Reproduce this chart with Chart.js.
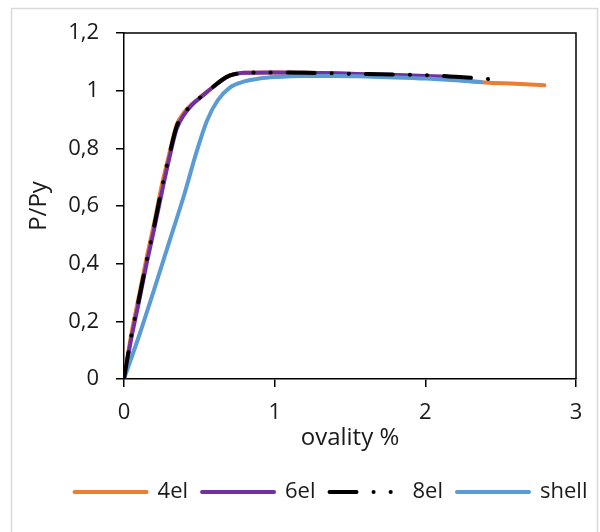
<!DOCTYPE html>
<html>
<head>
<meta charset="utf-8">
<script src="https://cdn.jsdelivr.net/npm/chart.js@4"></script>
<style>
  html, body { margin: 0; padding: 0; background: #fff; }
  #wrap { width: 600px; height: 532px; }
</style>
</head>
<body>
<div id="wrap"><canvas id="chart" width="600" height="532"></canvas></div>
<script>
// values
const seriesNames = ['4el', '6el', '8el', 'shell'];

const x4el = [0, 0.05, 0.1, 0.15, 0.2, 0.25, 0.3, 0.35, 0.4, 0.45, 0.5, 0.55, 0.6, 0.65, 0.7, 0.75, 0.8, 1.0, 1.2, 1.4, 1.6, 1.8, 2.0, 2.2, 2.4, 2.6, 2.79];
const y4el = [0, 0.16, 0.29, 0.42, 0.54, 0.67, 0.78, 0.882, 0.925, 0.953, 0.975, 0.996, 1.017, 1.037, 1.052, 1.059, 1.062, 1.063, 1.062, 1.06, 1.057, 1.053, 1.048, 1.039, 1.028, 1.024, 1.019];

const x6el = [0, 0.05, 0.1, 0.15, 0.2, 0.25, 0.3, 0.35, 0.4, 0.45, 0.5, 0.55, 0.6, 0.65, 0.7, 0.75, 0.8, 1.0, 1.2, 1.4, 1.6, 1.8, 2.0, 2.16];
const y6el = [0, 0.145, 0.27, 0.4, 0.52, 0.645, 0.765, 0.868, 0.918, 0.95, 0.973, 0.995, 1.016, 1.037, 1.052, 1.059, 1.062, 1.063, 1.062, 1.06, 1.057, 1.054, 1.051, 1.048];

const x8el = [0, 0.05, 0.1, 0.15, 0.2, 0.25, 0.3, 0.35, 0.4, 0.45, 0.5, 0.55, 0.6, 0.65, 0.7, 0.75, 0.8, 1.0, 1.2, 1.4, 1.6, 1.8, 2.0, 2.2, 2.4, 2.48];
const y8el = [0, 0.155, 0.28, 0.41, 0.53, 0.66, 0.775, 0.877, 0.922, 0.952, 0.974, 0.996, 1.017, 1.037, 1.052, 1.059, 1.062, 1.063, 1.062, 1.06, 1.058, 1.056, 1.054, 1.048, 1.041, 1.038];

const xShell = [0, 0.1, 0.2, 0.3, 0.4, 0.48, 0.55, 0.62, 0.7, 0.8, 0.9, 1.0, 1.2, 1.4, 1.6, 1.8, 2.0, 2.2, 2.37];
const yShell = [0, 0.15, 0.31, 0.475, 0.64, 0.785, 0.895, 0.965, 1.01, 1.032, 1.042, 1.047, 1.051, 1.051, 1.049, 1.046, 1.042, 1.036, 1.03];

const xTicks = [0, 1, 2, 3];
const yTicks = [0, 0.2, 0.4, 0.6, 0.8, 1, 1.2];

const FONT = '"Open Sans", "Noto Sans", sans-serif';
const TEXT = '#1a1a1a';
const LINE_W = 4;

function pts(xs, ys) {
    return xs.map((x, i) => ({ x: x, y: ys[i] }));
}

function commaNum(v) {
    return String(Number(v.toFixed(1))).replace('.', ',');
}

// light frame round the whole chart, box round the plot area,
// and the legend nudged right like in the original
const framePlugin = {
    id: 'frame',
    afterLayout(chart) {
        const l = chart.legend;
        if (l) { l.left += 43; l.right += 43; }
    },
    beforeDraw(chart) {
        const ctx = chart.ctx;
        ctx.save();
        ctx.fillStyle = '#fff';
        ctx.fillRect(0, 0, chart.width, chart.height);
        ctx.strokeStyle = '#d9d9d9';
        ctx.lineWidth = 1.5;
        ctx.strokeRect(11.5, 8.5, 586, 560);
        ctx.restore();
    },
    beforeDatasetsDraw(chart) {
        const a = chart.chartArea;
        const ctx = chart.ctx;
        ctx.save();
        ctx.strokeStyle = '#000';
        ctx.lineWidth = 1.5;
        ctx.beginPath();
        ctx.moveTo(a.left, a.top);
        ctx.lineTo(a.right, a.top);
        ctx.lineTo(a.right, a.bottom);
        ctx.stroke();
        ctx.restore();
    }
};

const ctx = document.getElementById('chart').getContext('2d');
new Chart(ctx, {
    type: 'scatter',
    data: {
        datasets: [{
            label: seriesNames[0],
            data: pts(x4el, y4el),
            borderColor: '#ED7D31',
            backgroundColor: '#ED7D31',
            borderWidth: LINE_W,
            order: 3
        }, {
            label: seriesNames[1],
            data: pts(x6el, y6el),
            borderColor: '#7030A0',
            backgroundColor: '#7030A0',
            borderWidth: LINE_W,
            order: 2
        }, {
            label: seriesNames[2],
            data: pts(x8el, y8el),
            borderColor: '#000000',
            backgroundColor: '#000000',
            borderWidth: LINE_W,
            borderDash: [27, 17, 0.1, 17, 0.1, 17],
            order: 0
        }, {
            label: seriesNames[3],
            data: pts(xShell, yShell),
            borderColor: '#5B9BD5',
            backgroundColor: '#5B9BD5',
            borderWidth: LINE_W,
            order: 1
        }]
    },
    options: {
        responsive: false,
        animation: false,
        showLine: true,
        elements: {
            point: { radius: 0, hoverRadius: 0 },
            line: { cubicInterpolationMode: 'monotone', borderCapStyle: 'round', borderJoinStyle: 'round' }
        },
        layout: { padding: { left: 0, right: 24, top: 33, bottom: 19 } },
        scales: {
            x: {
                type: 'linear',
                min: 0,
                max: 3,
                afterBuildTicks: (s) => { s.ticks = xTicks.map(v => ({ value: v })); },
                afterFit: (s) => { s.height = 88; },
                grid: { drawOnChartArea: false, color: '#000', lineWidth: 1.5, tickLength: 8 },
                border: { color: '#000', width: 1.5 },
                ticks: { color: TEXT, font: { family: FONT, size: 22 }, padding: 13, maxRotation: 0 },
                title: { display: true, text: 'ovality %', color: TEXT, font: { family: FONT, size: 24 }, padding: { top: 0, bottom: 14 } }
            },
            y: {
                type: 'linear',
                min: 0,
                max: 1.2,
                afterBuildTicks: (s) => { s.ticks = yTicks.map(v => ({ value: v })); },
                afterFit: (s) => { s.width = 124; },
                grid: { drawOnChartArea: false, color: '#000', lineWidth: 1.5, tickLength: 8 },
                border: { color: '#000', width: 1.5 },
                ticks: { color: TEXT, font: { family: FONT, size: 22 }, padding: 17, callback: (v) => commaNum(v) },
                title: { display: true, text: 'P/Py', color: TEXT, font: { family: FONT, size: 24 }, padding: { top: 24.6, bottom: 0 } }
            }
        },
        plugins: {
            tooltip: { enabled: false },
            legend: {
                position: 'bottom',
                labels: {
                    usePointStyle: true,
                    pointStyle: 'line',
                    pointStyleWidth: 72,
                    boxHeight: 22,
                    padding: 14,
                    color: TEXT,
                    font: { family: FONT, size: 22 },
                    sort: (a, b) => a.datasetIndex - b.datasetIndex,
                    generateLabels: (chart) => {
                        const items = Chart.defaults.plugins.legend.labels.generateLabels(chart);
                        return items.map(item => {
                            const ds = chart.data.datasets[item.datasetIndex];
                            item.lineWidth = LINE_W;
                            item.strokeStyle = ds.borderColor;
                            item.lineDash = ds.borderDash || [];
                            item.lineCap = 'round';
                            item.pointStyle = 'line';
                            return item;
                        });
                    }
                }
            }
        }
    },
    plugins: [framePlugin]
});
</script>
</body>
</html>
